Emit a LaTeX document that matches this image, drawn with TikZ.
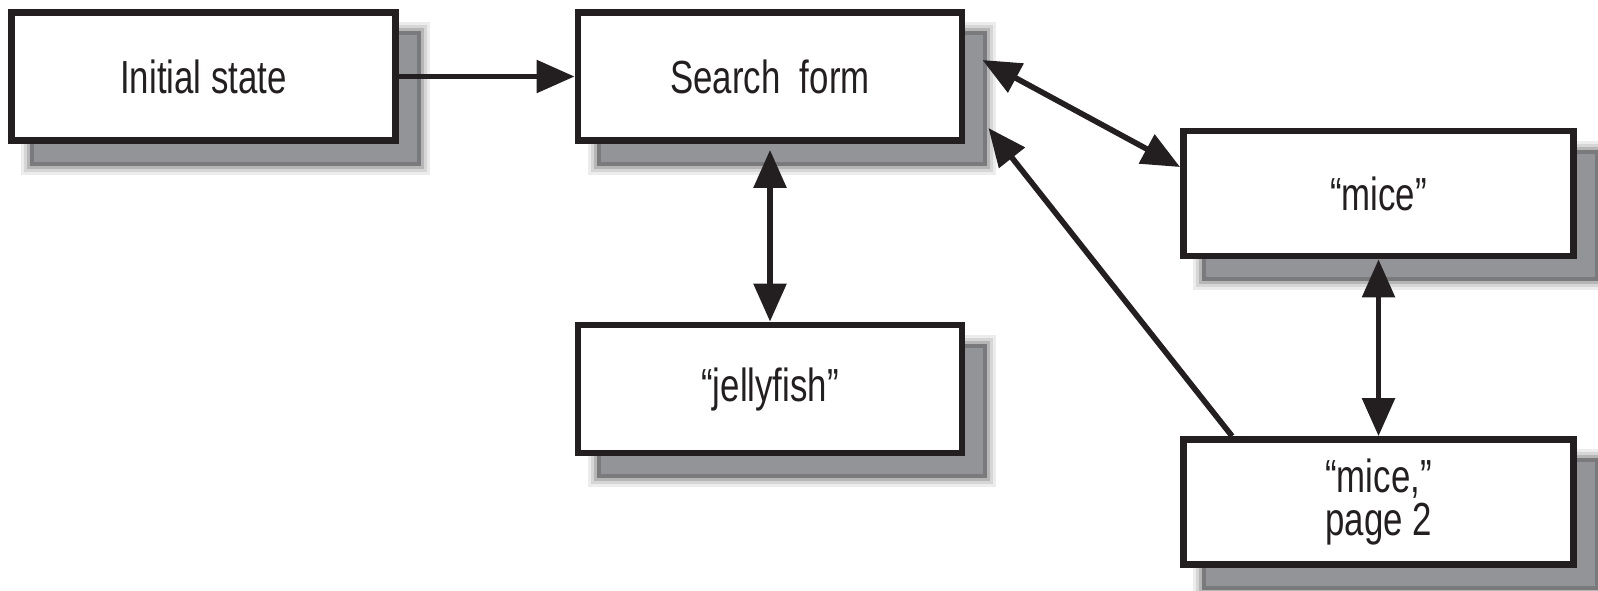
\documentclass[tikz,border=0pt]{standalone}
\usepackage{fontspec}
\setmainfont{Liberation Sans}[FakeStretch=0.75]
\usetikzlibrary{arrows.meta,backgrounds}

\definecolor{ink}{RGB}{35,31,32}
\definecolor{shadeA}{RGB}{236,236,236}
\definecolor{shadeB}{RGB}{214,214,214}
\definecolor{shadeC}{RGB}{182,182,183}
\definecolor{shadeD}{RGB}{122,122,124}
\definecolor{shadowcore}{RGB}{146,148,151}

\tikzset{
    statebox/.style={draw=ink, line width=1.9pt, fill=white, text=ink,
        minimum width=3.84cm, minimum height=1.28cm, align=center,
        font=\fontsize{13.2pt}{12.3pt}\selectfont},
    link/.style={draw=ink, line width=1.6pt}
}

\begin{document}
\begin{tikzpicture}[x=0.01cm, y=-0.01cm, >={Triangle[length=0.38cm,width=0.32cm]}]
            \useasboundingbox (0,0) rectangle (1598,590);
            \node[statebox] (init)    at (203.5,76.5) {Initial state};
            \node[statebox] (search)  at (770,76.5)   {Search\ \ form};
            \node[statebox] (jelly)   at (770,389)    {“jellyfish”};
            \node[statebox, minimum width=3.9cm, minimum height=1.25cm] (mice)    at (1378.5,193.5) {“mice”};
            \node[statebox, minimum width=3.9cm, minimum height=1.25cm] (pagetwo) at (1378.5,502)   {“mice,”\\page 2};
            \begin{scope}[on background layer]
                \foreach \n in {init,search,jelly,mice,pagetwo}
                    \foreach \e/\c in {9/shadeA,6/shadeB,3/shadeC,0/shadeD,-4/shadowcore}
                        \fill[\c] ([shift={({22-(\e)},{22-(\e)})}]\n.north west) rectangle ([shift={({22+(\e)},{22+(\e)})}]\n.south east);
            \end{scope}
            \draw[link,->] (init.east) -- (search.west);
            \draw[link,<->] ([shift={(0,6)}]search.south) -- (jelly.north);
            \draw[link,<->] ([shift={(17,-16.5)}]search.east) -- ([shift={(0,-26.5)}]mice.west);
            \draw[link,<->] (mice.south) -- (pagetwo.north);
            \draw[link,->] ([shift={(52,0)}]pagetwo.north west) -- ([shift={(23,51.5)}]search.east);
        \end{tikzpicture}
\end{document}
